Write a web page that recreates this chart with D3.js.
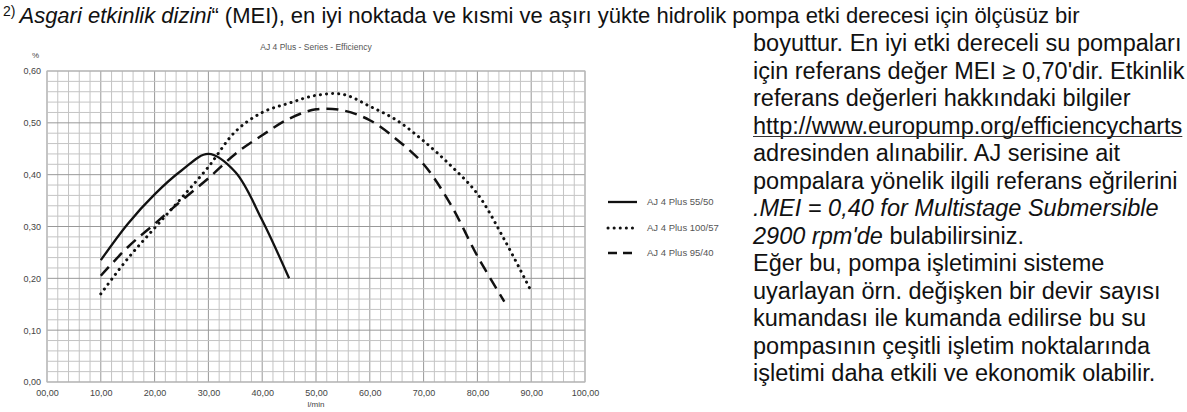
<!DOCTYPE html>
<html>
<head>
<meta charset="utf-8">
<script src="https://cdn.jsdelivr.net/npm/d3@7"></script>
<style>
  body { margin: 0; background: #fff; }
  svg { display: block; font-family: "Liberation Sans", Arial, sans-serif; }
</style>
</head>
<body>
<svg id="chart" width="1187" height="412"></svg>
<script>
// series data
var flow55 = [10, 15, 20, 25, 30, 35, 40, 45];
var eff55  = [0.235, 0.305, 0.362, 0.408, 0.44, 0.405, 0.312, 0.20];

var flow100 = [10, 15, 20, 25, 30, 35, 40, 45, 50, 55, 60, 65, 70, 75, 80, 85, 90];
var eff100  = [0.17, 0.238, 0.297, 0.355, 0.415, 0.483, 0.52, 0.538, 0.553, 0.555, 0.532, 0.505, 0.465, 0.418, 0.363, 0.275, 0.175];

var flow95 = [10, 15, 20, 25, 30, 35, 40, 45, 50, 55, 60, 65, 70, 75, 80, 85];
var eff95  = [0.205, 0.26, 0.305, 0.35, 0.393, 0.44, 0.476, 0.508, 0.526, 0.524, 0.505, 0.468, 0.42, 0.343, 0.243, 0.155];

var seriesNames = ["AJ 4 Plus 55/50", "AJ 4 Plus 100/57", "AJ 4 Plus 95/40"];

var xTickValues = [0, 10, 20, 30, 40, 50, 60, 70, 80, 90, 100];
var xTickLabels = ["00,00", "10,00", "20,00", "30,00", "40,00", "50,00", "60,00", "70,00", "80,00", "90,00", "100,00"];
var yTickValues = [0, 0.1, 0.2, 0.3, 0.4, 0.5, 0.6];
var yTickLabels = ["0,00", "0,10", "0,20", "0,30", "0,40", "0,50", "0,60"];

var headLine = ["Asgari etkinlik dizini", "“ (MEI), en iyi noktada ve kısmi ve aşırı yükte hidrolik pompa etki derecesi için ölçüsüz bir"];
var sideLines = [
  "boyuttur. En iyi etki dereceli su pompaları",
  "için referans değer MEI ≥ 0,70'dir. Etkinlik",
  "referans değerleri hakkındaki bilgiler",
  "http://www.europump.org/efficiencycharts",
  "adresinden alınabilir. AJ serisine ait",
  "pompalara yönelik ilgili referans eğrilerini",
  ".MEI = 0,40 for Multistage Submersible",
  "2900 rpm'de| bulabilirsiniz.",
  "Eğer bu, pompa işletimini sisteme",
  "uyarlayan örn. değişken bir devir sayısı",
  "kumandası ile kumanda edilirse bu su",
  "pompasının çeşitli işletim noktalarında",
  "işletimi daha etkili ve ekonomik olabilir."
];

var svg = d3.select("#chart");

// plot area
var pLeft = 47, pRight = 585, pTop = 71, pBottom = 382;
var x = d3.scaleLinear().domain([0, 100]).range([pLeft, pRight]);
var y = d3.scaleLinear().domain([0, 0.6]).range([pBottom, pTop]);

// grid - minor then major
var g = svg.append("g");
g.selectAll(".vgrid").data(d3.range(0, 101, 2))
  .enter().append("line")
  .attr("x1", d => x(d)).attr("x2", d => x(d))
  .attr("y1", pTop).attr("y2", pBottom)
  .attr("stroke", d => d % 10 === 0 ? "#999" : "#c4c4c4")
  .attr("stroke-width", 1);
g.selectAll(".hgrid").data(d3.range(0, 31).map(i => i * 0.02))
  .enter().append("line")
  .attr("x1", pLeft).attr("x2", pRight)
  .attr("y1", d => y(d)).attr("y2", d => y(d))
  .attr("stroke", (d, i) => i % 5 === 0 ? "#999" : "#c4c4c4")
  .attr("stroke-width", 1);
g.append("rect")
  .attr("x", pLeft).attr("y", pTop)
  .attr("width", pRight - pLeft).attr("height", pBottom - pTop)
  .attr("fill", "none").attr("stroke", "#bdbdbd");

// axes (labels only)
var xAxis = d3.axisBottom(x).tickValues(xTickValues)
  .tickFormat((d, i) => xTickLabels[i]).tickSize(0).tickPadding(8);
svg.append("g").attr("transform", "translate(0," + pBottom + ")").call(xAxis)
  .call(a => a.select(".domain").remove())
  .selectAll("text").attr("font-size", 9).attr("fill", "#444")
  .attr("font-family", "Liberation Sans, Arial, sans-serif");

var yAxis = d3.axisLeft(y).tickValues(yTickValues)
  .tickFormat((d, i) => yTickLabels[i]).tickSize(0).tickPadding(6);
svg.append("g").attr("transform", "translate(" + pLeft + ",0)").call(yAxis)
  .call(a => a.select(".domain").remove())
  .selectAll("text").attr("font-size", 9).attr("fill", "#444")
  .attr("font-family", "Liberation Sans, Arial, sans-serif");

svg.append("text").attr("x", 32).attr("y", 58)
  .attr("font-size", 8).attr("fill", "#444").text("%");
svg.append("text").attr("x", (pLeft + pRight) / 2).attr("y", 50)
  .attr("text-anchor", "middle").attr("font-size", 8.5).attr("fill", "#555")
  .text("AJ 4 Plus - Series - Efficiency");
svg.append("text").attr("x", (pLeft + pRight) / 2).attr("y", 407)
  .attr("text-anchor", "middle").attr("font-size", 8).attr("fill", "#444")
  .text("l/min");

// curves
var styles = [
  { dash: null, width: 2.3, cap: "butt" },
  { dash: "0.1 6", width: 3, cap: "round" },
  { dash: "12 7", width: 2.5, cap: "butt" }
];
var series = [
  d3.zip(flow55, eff55),
  d3.zip(flow100, eff100),
  d3.zip(flow95, eff95)
];
var line = d3.line().x(d => x(d[0])).y(d => y(d[1])).curve(d3.curveCatmullRom);

series.forEach(function(s, i) {
  svg.append("path").datum(s)
    .attr("d", line)
    .attr("fill", "none")
    .attr("stroke", "#111")
    .attr("stroke-width", styles[i].width)
    .attr("stroke-linecap", styles[i].cap)
    .attr("stroke-dasharray", styles[i].dash);
});

// legend
var legY = [202, 228, 253];
seriesNames.forEach(function(n, i) {
  svg.append("line")
    .attr("x1", 608).attr("x2", 637)
    .attr("y1", legY[i]).attr("y2", legY[i])
    .attr("stroke", "#111")
    .attr("stroke-width", styles[i].width)
    .attr("stroke-linecap", styles[i].cap)
    .attr("stroke-dasharray", i === 2 ? "9 6" : styles[i].dash);
  svg.append("text").attr("x", 647).attr("y", legY[i] + 3)
    .attr("font-size", 9.5).attr("fill", "#555").text(n);
});

// heading line
var head = svg.append("text").attr("x", 3).attr("y", 23)
  .attr("font-size", 22).attr("fill", "#111");
head.append("tspan").attr("font-size", 14).attr("dy", -7).text("2)");
head.append("tspan").attr("dy", 7).attr("dx", 4).attr("font-style", "italic").text(headLine[0]);
head.append("tspan").text(headLine[1]);

// side text
sideLines.forEach(function(t, i) {
  var ty = 51 + i * 27.5;
  var tx = svg.append("text").attr("x", 753).attr("y", ty)
    .attr("font-size", 23.5).attr("fill", "#111");
  if (i === 6) {
    tx.attr("font-style", "italic").text(t);
  } else if (i === 7) {
    var parts = t.split("|");
    tx.append("tspan").attr("font-style", "italic").text(parts[0]);
    tx.append("tspan").text(parts[1]);
  } else {
    tx.text(t);
  }
  if (i === 3) {
    var w = tx.node().getComputedTextLength();
    svg.append("line").attr("x1", 753).attr("x2", 753 + w)
      .attr("y1", ty + 3).attr("y2", ty + 3)
      .attr("stroke", "#333").attr("stroke-width", 1.2);
  }
});
</script>
</body>
</html>
